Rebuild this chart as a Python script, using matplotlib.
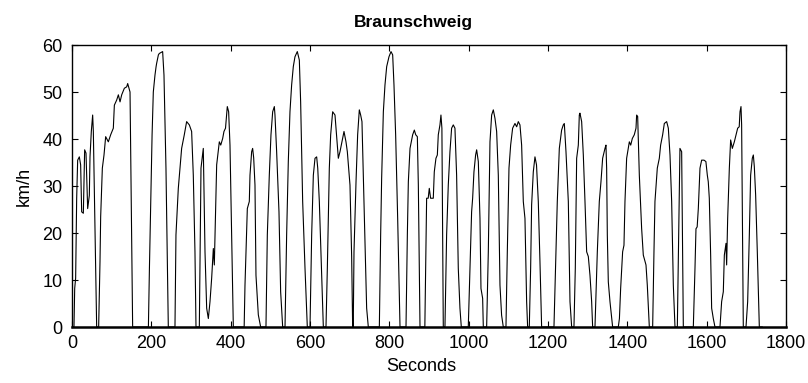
import matplotlib
matplotlib.use("Agg")
import matplotlib.pyplot as plt
from matplotlib import font_manager

# Braunschweig driving cycle (time s, speed km/h)
time_s = [0, 5, 6.8, 9.2, 11.8, 14.3, 18.5, 21.8, 24.4, 28.6, 31.9, 35.3, 39.5, 43.7, 45.4, 48.7, 52.1, 53.8, 62.2,
          67.2, 70.6, 72.3, 76.5, 80.7, 84.9, 91.6, 97.5, 104.2, 106.8, 112.7, 116.9, 121.1, 125.3, 132, 137.9, 140.4, 143.8, 146.3, 152.9,
          192.6, 195.2, 198.5, 201.9, 205, 209.2, 212, 213.4, 217.8, 220.1, 228.5, 231.9, 236.9, 242.8,
          259.6, 262.1, 268, 276.4, 283.1, 289, 295.8, 301.6, 305.8, 310, 312.6,
          321, 325.2, 331, 335.3, 339.5, 343.7, 347.9, 352.1, 356.3, 358.8, 364.7, 371.4, 375, 379.8, 383.1, 387, 391.5, 394.9, 398.3, 402.5, 406.7,
          434, 436.1, 442, 447, 448.7, 452.9, 455.4, 458, 461.3, 463.8, 469.7, 475.6,
          489, 492.4, 497.4, 501.6, 505.9, 510.1, 511.7, 515.9, 521.8, 526, 531.1,
          537, 541.1, 545.3, 549.5, 553.7, 557.9, 562.1, 568, 573.1, 576.4, 581.5, 587.4, 593.2,
          600, 604.2, 608.4, 612.6, 616.8, 619.5, 623.5, 629.4, 633.6,
          640.3, 643.7, 648.7, 652.1, 657.1, 663, 671.4, 675.6, 685.7, 690.7, 694.1, 700.8, 705, 707.5,
          709, 710.9, 716, 720.1, 724.3, 727.7, 731, 734.4, 738.6, 742.8, 747,
          774.8, 778.1, 780.6, 784.9, 789, 793.3, 799.1, 804.2, 808.4, 811.7, 815.9, 821, 826.9,
          842, 845.4, 847.9, 852.1, 858.8, 863, 866.5, 870.6, 873.1, 877.3,
          889.5, 894, 898, 900.7, 904, 910.8, 913.3, 917.5, 921, 923.4, 927.6, 930.1, 932.5, 936,
          940.2, 944.4, 948.6, 952.8, 957, 961.2, 965.4, 969.6, 973.8, 978, 981.4,
          999, 1003.2, 1007.4, 1010, 1013.3, 1017.5, 1020.1, 1024.3, 1028.5, 1031, 1035.2, 1036.9,
          1045.3, 1049.5, 1053.7, 1057.9, 1062.1, 1066.3, 1070.5, 1074.7, 1078.9, 1083, 1087.3,
          1094, 1097.4, 1101.6, 1105.8, 1110.8, 1116.7, 1121, 1125.1, 1129.3, 1133.5, 1137.7, 1141.9, 1146.1, 1148.6,
          1152.8, 1156.2, 1158.7, 1162.9, 1167.1, 1171, 1175.5, 1179.7, 1183.9,
          1215, 1220.1, 1223.4, 1228.5, 1234.3, 1238.5, 1241.1, 1245.3, 1251.2, 1255.4, 1259.6,
          1265.4, 1268.8, 1272.2, 1276.4, 1278.9, 1280.5, 1284.8, 1289, 1293.2, 1297.4, 1301.6, 1305.8, 1310, 1312.5,
          1318.4, 1324.3, 1329.3, 1333.5, 1337.7, 1343.6, 1346.1, 1347.8, 1349.5, 1352, 1356.2, 1362.9,
          1377.2, 1380, 1383.1, 1388.1, 1391.5, 1394, 1398.2, 1405, 1408.5, 1412.5, 1417.5, 1421.8, 1423.4, 1426, 1430.2, 1436, 1440.2, 1447, 1450.3, 1455.4,
          1463.8, 1467.1, 1469.6, 1475.5, 1480.6, 1483.9, 1489, 1493.2, 1499.1, 1503.3, 1507.5, 1511.7, 1515.9, 1520.1,
          1526, 1529.3, 1532.6, 1536.9, 1541.1,
          1566.3, 1570.5, 1573, 1576, 1578.9, 1583.1, 1587.3, 1593.2, 1598, 1601.6, 1604, 1606.6, 1610, 1612.5, 1616.7, 1620.9,
          1633.5, 1637.7, 1641.9, 1644.5, 1648.7, 1650.3, 1652.9, 1657.1, 1660.4, 1664.6, 1669.7, 1673.9, 1678.1, 1682, 1684, 1686.5, 1688.1, 1692.3,
          1699.1, 1703.3, 1707.5, 1710.8, 1715, 1717.6, 1720.1, 1723.4, 1727.6, 1732.7, 1740]
speed_kmh = [0, 0, 8.2, 10.4, 27.4, 35.5, 36.2, 34.5, 24.5, 24.2, 37.7, 37.0, 25.2, 28.0, 36.2, 41.6, 45.1, 41.6, 0,
             0, 13.9, 23.5, 33.8, 36.6, 40.5, 39.4, 40.9, 42.3, 47.2, 48.3, 49.4, 47.9, 49.4, 50.8, 51.1, 51.8, 50.8, 50.0, 0,
             0, 12.5, 26.7, 40.9, 50.0, 53.6, 55.4, 56.1, 57.9, 58.2, 58.6, 53.6, 33.8, 0,
             0, 19.6, 29.5, 38.0, 40.9, 43.7, 43.0, 41.6, 32.3, 16.0, 0,
             0, 33.8, 38.0, 16.0, 4.0, 1.8, 5.4, 10.4, 16.7, 13.2, 34.5, 39.4, 38.7, 40.1, 41.6, 42.3, 46.9, 45.8, 38.7, 19.6, 0,
             0, 8.9, 25.2, 26.7, 32.3, 37.3, 38.0, 36.0, 30.2, 11.0, 2.6, 0,
             0, 19.6, 32.3, 40.9, 45.8, 46.9, 45.1, 37.3, 24.5, 7.5, 0,
             0, 19.6, 35.2, 45.8, 51.5, 55.4, 57.5, 58.6, 56.8, 47.9, 26.7, 12.5, 0,
             0, 19.6, 32.3, 35.9, 36.2, 33.8, 26.7, 11.0, 0,
             0, 12.5, 33.8, 40.9, 45.8, 45.1, 35.9, 37.3, 41.6, 39.4, 37.3, 30.2, 15.0, 0,
             0, 16.0, 30.9, 40.9, 46.2, 45.1, 43.7, 32.3, 18.2, 4.0, 0,
             0, 19.6, 31.6, 45.8, 51.5, 55.4, 57.5, 58.6, 57.9, 51.5, 40.9, 23.1, 0,
             0, 19.6, 30.9, 38.0, 40.9, 41.9, 40.9, 40.5, 30.2, 0,
             0, 27.4, 27.4, 29.5, 27.4, 27.4, 33.0, 35.9, 36.6, 40.9, 43.0, 45.1, 42.3, 0,
             0, 19.6, 30.2, 37.3, 42.3, 43.0, 42.3, 32.3, 12.5, 4.0, 0,
             0, 12.5, 24.5, 27.4, 33.0, 36.6, 37.7, 35.2, 23.1, 8.2, 6.1, 0,
             0, 16.0, 39.4, 45.1, 46.2, 44.4, 41.6, 32.3, 8.9, 2.5, 0,
             0, 16.0, 33.8, 38.7, 42.3, 43.3, 42.6, 43.7, 43.0, 38.7, 26.7, 23.1, 5.4, 0,
             0, 12.5, 26.0, 33.0, 36.2, 34.5, 26.7, 13.9, 0,
             0, 16.0, 26.7, 38.0, 41.9, 43.0, 43.3, 37.3, 26.7, 5.4, 0,
             0, 12.5, 35.9, 38.7, 45.1, 45.5, 43.7, 36.6, 26.7, 16.0, 15.0, 11.0, 5.4, 0,
             0, 16.0, 26.7, 30.9, 35.9, 38.0, 38.7, 33.8, 19.6, 9.6, 5.4, 0,
             0, 1.8, 8.2, 16.0, 17.4, 26.7, 35.9, 39.4, 38.7, 40.1, 40.9, 42.3, 45.1, 44.8, 32.3, 21.0, 15.3, 13.2, 8.9, 0,
             0, 16.0, 26.7, 33.8, 35.9, 38.7, 40.9, 43.3, 43.7, 42.3, 36.6, 26.7, 8.9, 0,
             0, 19.6, 38.0, 37.3, 0,
             0, 12.5, 20.9, 21.3, 25.2, 33.8, 35.5, 35.5, 35.2, 32.3, 30.9, 27.4, 15.3, 4.0, 1.8, 0,
             0, 5.4, 7.5, 15.3, 17.8, 13.2, 23.1, 33.8, 39.8, 38.0, 39.4, 40.9, 42.3, 42.6, 45.8, 46.9, 43.0, 0,
             0, 5.4, 19.6, 32.3, 35.9, 36.6, 34.1, 28.1, 16.0, 0, 0]

title = "Braunschweig"
x_label = "Seconds"
y_label = "km/h"
x_ticks = [0, 200, 400, 600, 800, 1000, 1200, 1400, 1600, 1800]
y_ticks = [0, 10, 20, 30, 40, 50, 60]

available = {f.name for f in font_manager.fontManager.ttflist}
families = [f for f in ['Liberation Sans Narrow', 'Arial Narrow', 'Liberation Sans'] if f in available]
plt.rcParams['font.family'] = families + ['DejaVu Sans']

fig = plt.figure(figsize=(8.08, 3.83), dpi=100)
ax = fig.add_axes([0.0891, 0.1462, 0.8837, 0.7363])
ax.plot(time_s, speed_kmh, color='black', lw=0.8)
ax.set_xlim(0, 1800)
ax.set_ylim(0, 60)
ax.set_xticks(x_ticks)
ax.set_yticks(y_ticks)
ax.tick_params(direction='in', top=True, right=True, labelsize=13, length=4, width=0.8)
ax.tick_params(axis='x', pad=6)
ax.tick_params(axis='y', pad=7)
for s in ax.spines.values():
    s.set_linewidth(1.0)
ax.spines['bottom'].set_linewidth(1.8)
ax.set_xlabel(x_label, fontsize=13)
ax.xaxis.set_label_coords(0.489, -0.11)
ax.set_ylabel(y_label, fontsize=13)
ax.yaxis.set_label_coords(-0.055, 0.5)
fig.text(413 / 808, 1 - 22 / 383, title, fontsize=12.5, fontweight='bold', ha='center', va='center')
fig.savefig("out.png", dpi=100)
